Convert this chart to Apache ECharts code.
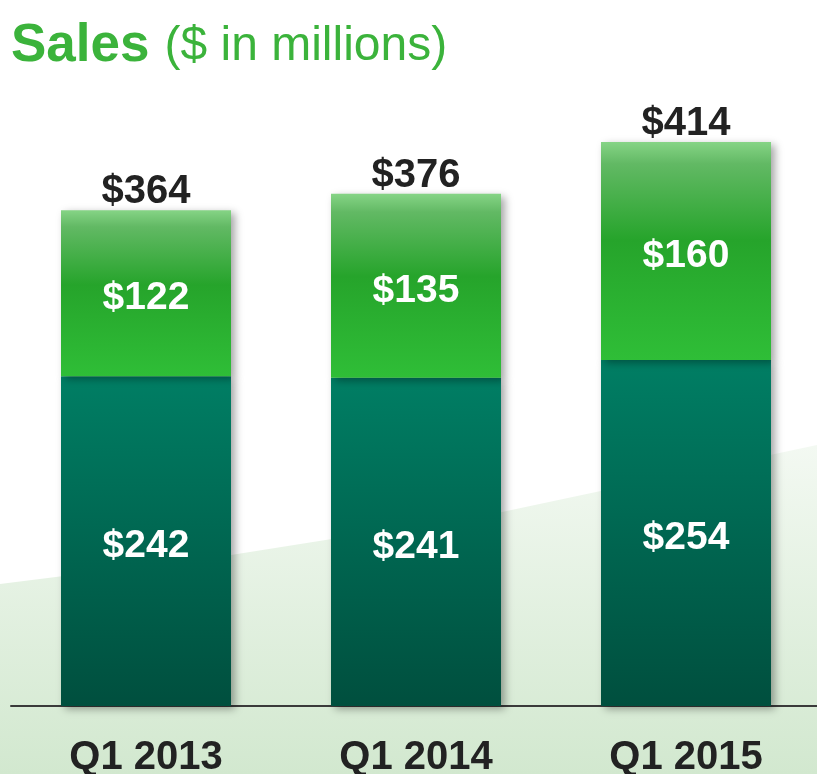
<!DOCTYPE html>
<html>
<head>
<meta charset="utf-8">
<script src="https://cdn.jsdelivr.net/npm/echarts@6/dist/echarts.min.js"></script>
<style>
  html, body {margin:0;padding:0;background:#ffffff;}
  #chart {width:817px;height:774px;}
</style>
</head>
<body>
<div id="chart"></div>
<script>
    // 数据
    var categories = ['Q1 2013', 'Q1 2014', 'Q1 2015'];
    var baseSales = [242, 241, 254];
    var topSales = [122, 135, 160];
    var totalSales = [364, 376, 414];

    var chart = echarts.init(document.getElementById('chart'));
    var font = '"Liberation Sans", Arial, sans-serif';

    var shadow = {
        shadowColor: 'rgba(0,0,0,0.35)',
        shadowBlur: 8,
        shadowOffsetX: 4,
        shadowOffsetY: 3
    };

    var innerLabel = {
        show: true,
        position: 'inside',
        offset: [0, 5],
        formatter: '${c}',
        fontFamily: font,
        fontSize: 39,
        fontWeight: 'bold',
        color: '#ffffff'
    };

    var option = {
        backgroundColor: '#ffffff',
        animation: false,
        title: {
            left: 6,
            top: 15,
            text: '{a|Sales} {b|($ in millions)}',
            textStyle: {
                fontWeight: 'normal',
                rich: {
                    a: {fontFamily: font, fontSize: 53, fontWeight: 'bold', color: '#3bb33b'},
                    b: {fontFamily: font, fontSize: 48, fontWeight: 'normal', color: '#3bb33b', padding: [0, 0, 0, 10]}
                }
            }
        },
        graphic: [{
            type: 'polygon',
            z: -1,
            silent: true,
            shape: {
                points: [[0, 584], [231, 555], [502, 512], [817, 445], [817, 774], [0, 774]]
            },
            style: {
                fill: new echarts.graphic.LinearGradient(0, 0, 0, 1, [
                    {offset: 0, color: '#f3f9f2'},
                    {offset: 1, color: '#d2e8cf'}
                ])
            }
        }],
        grid: {left: 11, right: -4, top: 93, bottom: 68, containLabel: false, outerBoundsMode: 'none'},
        xAxis: {
            type: 'category',
            data: categories,
            axisTick: {show: false},
            axisLine: {lineStyle: {color: '#3a3a3a', width: 2}},
            axisLabel: {
                margin: 32,
                fontFamily: font,
                fontSize: 40,
                fontWeight: 'bold',
                color: '#222222'
            }
        },
        yAxis: {
            type: 'value',
            min: 0,
            max: 450,
            show: false,
            splitLine: {show: false}
        },
        series: [
            {
                // 总数标签 (透明柱)
                name: 'total',
                type: 'bar',
                barWidth: 170,
                barGap: '-100%',
                data: totalSales,
                z: 1,
                itemStyle: {color: 'rgba(0,0,0,0)'},
                label: {
                    show: true,
                    position: 'top',
                    distance: 3,
                    offset: [0, 5],
                    formatter: '${c}',
                    fontFamily: font,
                    fontSize: 40,
                    fontWeight: 'bold',
                    color: '#222222'
                }
            },
            {
                name: 'base',
                type: 'bar',
                stack: 'sales',
                barWidth: 170,
                data: baseSales,
                itemStyle: Object.assign({
                    color: new echarts.graphic.LinearGradient(0, 0, 0, 1, [
                        {offset: 0, color: '#007e64'},
                        {offset: 1, color: '#004f3e'}
                    ])
                }, shadow),
                label: innerLabel
            },
            {
                name: 'top',
                type: 'bar',
                stack: 'sales',
                barWidth: 170,
                data: topSales,
                itemStyle: Object.assign({
                    color: new echarts.graphic.LinearGradient(0, 0, 0, 1, [
                        {offset: 0, color: '#86d486'},
                        {offset: 0.1, color: '#62b964'},
                        {offset: 0.45, color: '#26a42b'},
                        {offset: 1, color: '#2fbe37'}
                    ])
                }, shadow),
                label: innerLabel
            }
        ]
    };
    chart.setOption(option);
</script>
</body>
</html>
